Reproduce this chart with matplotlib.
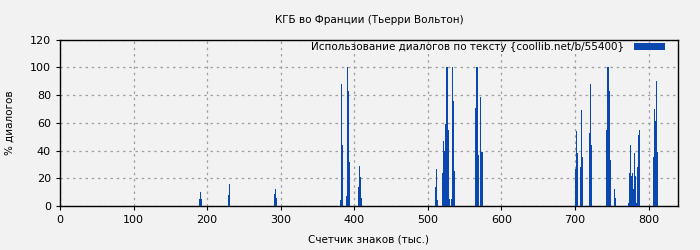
import matplotlib
matplotlib.use("Agg")
import matplotlib.pyplot as plt
from matplotlib.patches import Patch

title = "КГБ во Франции (Тьерри Вольтон)"
xlabel = "Счетчик знаков (тыс.)"
ylabel = "% диалогов"
legend_label = "Использование диалогов по тексту {coollib.net/b/55400}"

# left edge of each bin (thousand characters) and % of dialogue
positions = [188.7, 190.1, 191.4, 228.1, 229.4, 290.5, 291.9, 293.2,
             380.1, 381.5, 382.8, 388.3, 389.6, 391.0, 392.3,
             404.6, 405.9, 407.3, 408.6,
             509.1, 510.5, 511.8, 518.6, 520.0, 521.3, 522.7, 524.0, 525.4,
             526.7, 528.1, 530.8, 532.2, 533.5, 534.9,
             563.4, 564.8, 566.1, 567.5, 570.2, 571.5, 572.9,
             700.5, 701.9, 703.2, 707.3, 708.7, 710.0, 719.5, 720.9, 722.2,
             742.6, 744.0, 745.3, 746.7, 748.0, 753.5, 754.8,
             772.5, 773.8, 775.2, 776.5, 777.9, 779.2, 780.6, 781.9, 783.3,
             784.6, 786.0, 787.3,
             806.4, 807.7, 809.1, 810.4, 811.8]
values = [5, 10, 5, 8, 16, 9, 12, 6,
          4, 88, 44, 7, 100, 83, 32,
          14, 29, 21, 6,
          14, 27, 4, 24, 47, 40, 59, 100, 100,
          55, 5, 5, 100, 76, 25,
          71, 100, 100, 37, 44, 79, 39,
          27, 54, 38, 28, 69, 35, 53, 88, 44,
          55, 100, 100, 83, 33, 12, 6,
          2.5, 24, 44, 22, 24, 12, 38, 22, 2.5,
          28, 51, 55,
          35, 70, 61, 90, 39]
bin_width = 1.4

xticks = [0, 100, 200, 300, 400, 500, 600, 700, 800]
yticks = [0, 20, 40, 60, 80, 100, 120]

bg = "#f2f2f2"
bar_color = "#0a47b0"

fig = plt.figure(figsize=(7, 2.5), dpi=100, facecolor=bg)
ax = fig.add_axes([60/700, 1 - 206/250, 618/700, (206 - 39.7)/250])
ax.set_facecolor(bg)

ax.bar(positions, values, width=bin_width, align="edge", color=bar_color,
       linewidth=0, zorder=3, antialiased=False)

ax.set_xlim(0, 840)
ax.set_ylim(0, 120)
ax.set_xticks(xticks)
ax.set_yticks(yticks)
ax.tick_params(labelsize=8, length=3, color="black", direction="out")
ax.grid(True, color="#a0a0a0", linestyle=(0, (2, 3)), linewidth=0.9, zorder=0)
for s in ax.spines.values():
    s.set_color("black")
    s.set_linewidth(1)

ax.set_title(title, fontsize=7.5, pad=12)
ax.set_xlabel(xlabel, fontsize=7.5, labelpad=7)
ax.set_ylabel(ylabel, fontsize=7.5, labelpad=11)

handle = Patch(facecolor=bar_color, edgecolor="none")
leg = ax.legend([handle], [legend_label], loc="center right",
                bbox_to_anchor=(0.979, 0.956), frameon=False,
                fontsize=7.5, markerfirst=False, handlelength=3.0,
                handleheight=0.6, borderaxespad=0, borderpad=0,
                handletextpad=0.9)

fig.savefig("out.png", dpi=100, facecolor=bg)
